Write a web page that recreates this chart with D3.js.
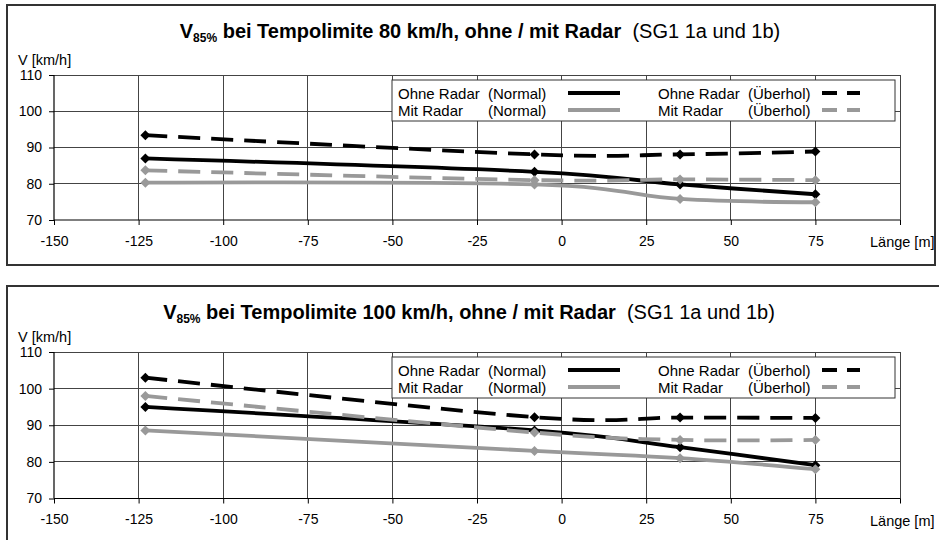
<!DOCTYPE html>
<html><head><meta charset="utf-8">
<script src="https://cdn.jsdelivr.net/npm/d3@7"></script>
<style>
body{margin:0;background:#fff}
svg{display:block;font-family:"Liberation Sans",Arial,sans-serif}
</style>
</head><body>
<svg id="c" width="939" height="540"></svg>
<script>
// ---- data ----
const positions = [-123, -8, 35, 75];
const xTicks = [-150, -125, -100, -75, -50, -25, 0, 25, 50, 75, 100];
const xTickLabels = ["-150", "-125", "-100", "-75", "-50", "-25", "0", "25", "50", "75", ""];
const yTicks = [70, 80, 90, 100, 110];
const yTickLabels = ["70", "80", "90", "100", "110"];
const seriesNames = ["Ohne Radar", "Mit Radar", "Ohne Radar", "Mit Radar"];
const seriesKinds = ["(Normal)", "(Normal)", "(Überhol)", "(Überhol)"];
const speedLimits = ["80", "100"];

// Tempolimite 80 km/h
const v80OhneNormal   = [87.0, 83.3, 79.8, 77.1];
const v80MitNormal    = [80.3, 79.8, 75.8, 74.9];
const v80OhneUeberhol = [93.4, 88.1, 88.1, 88.9];
const v80MitUeberhol  = [83.7, 81.0, 81.2, 81.0];

// Tempolimite 100 km/h
const v100OhneNormal   = [95.0, 88.6, 84.0, 79.1];
const v100MitNormal    = [88.6, 83.0, 81.0, 78.0];
const v100OhneUeberhol = [103.0, 92.2, 92.1, 92.0];
const v100MitUeberhol  = [98.0, 88.0, 86.0, 86.0];

// ---- styles ----
const BLACK = "#000", GREY = "#999";
const styles = [
  {color: BLACK, dash: null},
  {color: GREY, dash: null},
  {color: BLACK, dash: "22,11"},
  {color: GREY, dash: "22,11"}
];

const svg = d3.select("#c");

const charts = [
  {limit: speedLimits[0], series: [v80OhneNormal, v80MitNormal, v80OhneUeberhol, v80MitUeberhol],
   frame: {x: 7, y: 5, w: 928, h: 260}, plotTop: 75, plotBottom: 220, titleX: 480, titleY: 38},
  {limit: speedLimits[1], series: [v100OhneNormal, v100MitNormal, v100OhneUeberhol, v100MitUeberhol],
   frame: {x: 7, y: 286, w: 945, h: 270}, plotTop: 352, plotBottom: 498.5, titleX: 469, titleY: 319}
];

const diamond = r => `M0,${-r}L${r},0L0,${r}L${-r},0Z`;

charts.forEach(cfg => {
  const g = svg.append("g");
  g.append("rect").attr("x", cfg.frame.x).attr("y", cfg.frame.y)
    .attr("width", cfg.frame.w).attr("height", cfg.frame.h)
    .attr("fill", "none").attr("stroke", "#333").attr("stroke-width", 2);

  const x = d3.scaleLinear().domain([-150, 100]).range([54, 900]);
  const y = d3.scaleLinear().domain([70, 110]).range([cfg.plotBottom, cfg.plotTop]);

  // title
  const t = g.append("text").attr("x", cfg.titleX).attr("y", cfg.titleY)
    .attr("text-anchor", "middle").attr("font-size", 20).attr("fill", "#000");
  t.append("tspan").attr("font-weight", "bold").text("V");
  t.append("tspan").attr("font-weight", "bold").attr("font-size", 12).attr("dy", 3.5).text("85%");
  t.append("tspan").attr("font-weight", "bold").attr("dy", -3.5)
    .text(` bei Tempolimite ${cfg.limit} km/h, ohne / mit Radar`);
  t.append("tspan").attr("font-weight", "normal").text("\u00a0 (SG1 1a und 1b)");

  // gridlines
  g.append("g").selectAll("line").data(yTicks.slice(1)).join("line")
    .attr("x1", x(-150)).attr("x2", x(100)).attr("y1", d => y(d)).attr("y2", d => y(d))
    .attr("stroke", "#444").attr("stroke-width", 1).attr("shape-rendering", "crispEdges");
  g.append("g").selectAll("line").data(xTicks.slice(1)).join("line")
    .attr("x1", d => x(d)).attr("x2", d => x(d)).attr("y1", y(110)).attr("y2", y(70))
    .attr("stroke", "#444").attr("stroke-width", 1).attr("shape-rendering", "crispEdges");

  // axes
  const xAxis = d3.axisBottom(x).tickValues(xTicks).tickSize(5).tickPadding(11)
    .tickFormat((d, i) => xTickLabels[i]);
  const gx = g.append("g").attr("transform", `translate(0,${y(70)})`).call(xAxis);
  const yAxis = d3.axisLeft(y).tickValues(yTicks).tickSize(5).tickPadding(7)
    .tickFormat((d, i) => yTickLabels[i]);
  const gy = g.append("g").attr("transform", `translate(${x(-150)},0)`).call(yAxis);
  [gx, gy].forEach(a => {
    a.select(".domain").attr("stroke", "#000").attr("stroke-width", 1.2);
    a.selectAll(".tick line").attr("stroke", "#000");
    a.selectAll("text").attr("font-size", 14).attr("fill", "#000")
      .attr("font-family", "Liberation Sans, Arial, sans-serif");
  });
  gx.select(".domain").attr("d", `M${x(-150)},0H${x(100)}`);
  gy.select(".domain").attr("d", `M0,${y(70)}V${y(110)}`);

  g.append("text").attr("x", 18).attr("y", cfg.plotTop - 10).attr("font-size", 14.5)
    .text("V [km/h]");
  g.append("text").attr("x", 870).attr("y", y(70) + 27).attr("font-size", 14.5)
    .text("Länge [m]");

  // series
  const line = d3.line().x((d, i) => x(positions[i])).y(d => y(d))
    .curve(d3.curveCardinal.tension(0));
  cfg.series.forEach((vals, si) => {
    const st = styles[si];
    g.append("path").datum(vals).attr("d", line)
      .attr("fill", "none").attr("stroke", st.color).attr("stroke-width", 3.8)
      .attr("stroke-dasharray", st.dash);
    g.append("g").selectAll("path").data(vals).join("path")
      .attr("transform", (d, i) => `translate(${x(positions[i])},${y(d)})`)
      .attr("d", diamond(5)).attr("fill", st.color);
  });

  // legend
  const lg = g.append("g").attr("transform", `translate(392,${cfg.plotTop + 5})`);
  lg.append("rect").attr("width", 503).attr("height", 41)
    .attr("fill", "#fff").attr("stroke", "#333").attr("stroke-width", 1);
  const cols = [{name: 6, kind: 96, s1: 176, s2: 228}, {name: 266, kind: 356, s1: 430, s2: 468}];
  const rows = [13, 30];
  [0, 2, 1, 3].forEach(si => {
    const col = si >= 2 ? 1 : 0, row = si % 2;
    const c = cols[col], ry = rows[row];
    lg.append("text").attr("x", c.name).attr("y", ry + 5.5).attr("font-size", 15).text(seriesNames[si]);
    lg.append("text").attr("x", c.kind).attr("y", ry + 5.5).attr("font-size", 15).text(seriesKinds[si]);
    lg.append("line").attr("x1", c.s1).attr("x2", c.s2).attr("y1", ry).attr("y2", ry)
      .attr("stroke", styles[si].color).attr("stroke-width", 3.8)
      .attr("stroke-dasharray", styles[si].dash ? "15,10" : null);
  });
});
</script>
</body></html>
